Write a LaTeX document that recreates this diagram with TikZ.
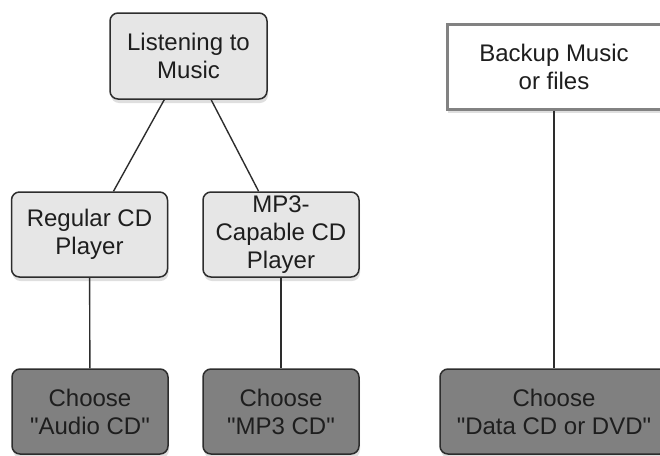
\documentclass[tikz,border=0pt]{standalone}
\usepackage{fontspec}
\setmainfont{Liberation Sans}
\usepackage{xcolor}
\usetikzlibrary{shadows}
\definecolor{boxlight}{RGB}{230,230,230}
\definecolor{boxdark}{RGB}{128,128,128}
\definecolor{edgedark}{RGB}{45,45,45}
\definecolor{edgegray}{RGB}{130,130,130}
\definecolor{textdark}{RGB}{30,30,30}
\begin{document}
\begin{tikzpicture}[
  x=1pt, y=-1pt,
  flowbox/.style={draw=edgedark, line width=1.5pt, align=center, text=textdark,
    font=\fontsize{24}{28}\selectfont, inner sep=0pt, minimum height=85pt,
    drop shadow={shadow xshift=1pt, shadow yshift=-4pt, opacity=0.25}},
  lightbox/.style={flowbox, rounded corners=8pt, fill=boxlight, minimum width=156pt},
  darkbox/.style={flowbox, rounded corners=8pt, fill=boxdark, minimum width=156pt},
  plainbox/.style={flowbox, draw=edgegray, line width=3pt, fill=white, minimum width=214pt},
  link/.style={draw=edgedark, line width=1.4pt}
]
\useasboundingbox (0,0) rectangle (660,455);

\node[lightbox, minimum width=157pt, minimum height=86pt] (listen) at (188.5,56) {Listening to\\Music};
\node[lightbox] (regular) at (89.5,234.5) {Regular CD\\Player};
\node[lightbox] (mpthree) at (281,234.5) {MP3-\\Capable CD\\Player};
\node[darkbox]  (audiocd) at (90,411.5) {Choose\\\textquotedbl Audio CD\textquotedbl};
\node[darkbox]  (mpcd)    at (281,411.5) {Choose\\\textquotedbl MP3 CD\textquotedbl};

\node[plainbox] (backup) at (554,66.5) {Backup Music\\or files};
\node[darkbox, minimum width=228pt] (datacd) at (554,411.5) {Choose\\\textquotedbl Data CD or DVD\textquotedbl};

\draw[link] (listen) -- (regular);
\draw[link] (listen) -- (mpthree);
\draw[link] (regular) -- (audiocd);
\draw[link] (mpthree) -- (mpcd);
\draw[link] (backup) -- (datacd);
\end{tikzpicture}
\end{document}
